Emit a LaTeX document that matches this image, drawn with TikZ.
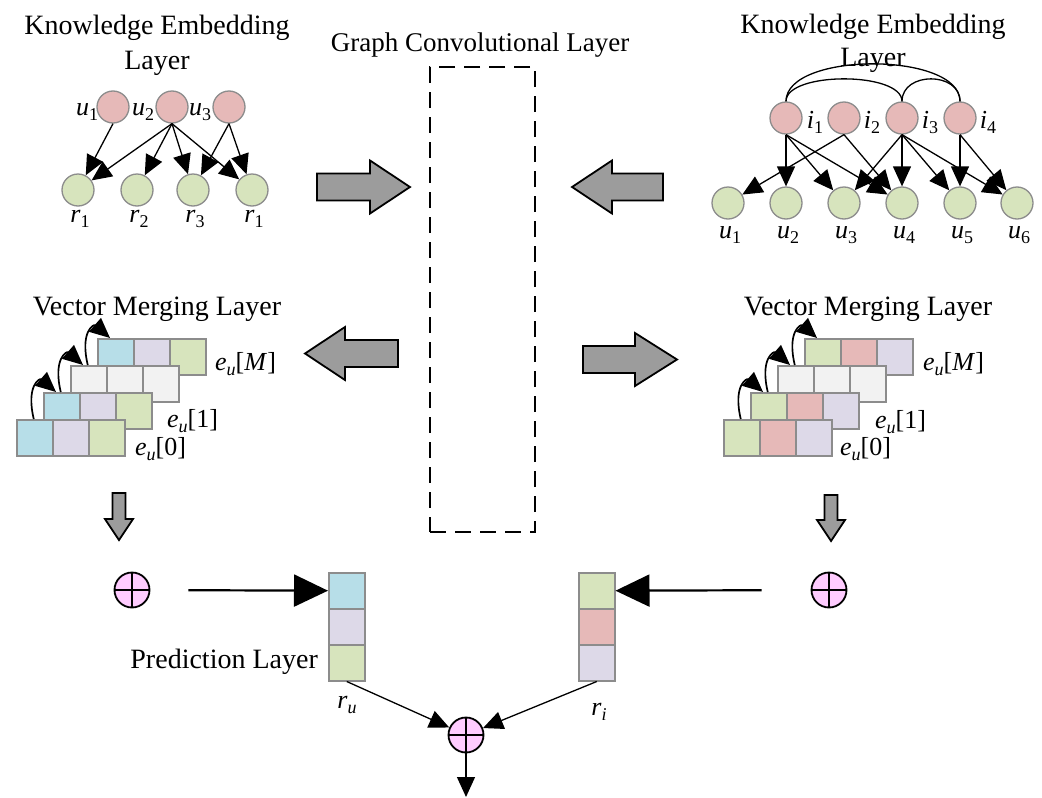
\documentclass[tikz,border=0pt]{standalone}
\usepackage{fontspec}
\setmainfont{Liberation Serif}
\usetikzlibrary{arrows.meta}
\definecolor{npink}{HTML}{E6B9B8}
\definecolor{ngreen}{HTML}{D7E4BD}
\definecolor{nblue}{HTML}{B7DEE8}
\definecolor{nlav}{HTML}{DDD9E8}
\definecolor{ngray}{HTML}{F2F2F2}
\definecolor{nborder}{HTML}{8C8C8C}
\definecolor{opink}{HTML}{FFCCFF}
\definecolor{bgray}{HTML}{9C9C9C}
\newcommand\lb[2]{\textit{#1}\raisebox{-5pt}{\fontsize{18}{18}\selectfont #2}}
\newcommand\eu[1]{\textit{e}\raisebox{-5pt}{\fontsize{18}{18}\selectfont\textit{u}}[#1]}
\tikzset{
  gn/.style={circle, draw=nborder, line width=1.3pt, minimum size=32pt, inner sep=0pt},
  pn/.style={gn, fill=npink},
  grn/.style={gn, fill=ngreen},
  lab/.style={font=\fontsize{26}{26}\selectfont, inner sep=0pt, anchor=base},
  ttl/.style={font=\fontsize{28}{34}\selectfont, inner sep=0pt, anchor=base},
  ed/.style={line width=1.3pt, -{Triangle[length=20pt,width=18pt]}},
  curv/.style={line width=1.7pt, -{Triangle[length=20pt,width=18pt]}},
  cell/.style={draw=nborder, line width=1.5pt, minimum width=36pt, minimum height=36pt, inner sep=0pt, anchor=north west},
  bigarr/.style={fill=bgray, draw=black, line width=1.8pt, line join=miter},
  oplus/.style={circle, draw=black, fill=opink, line width=1.8pt, minimum size=35pt, inner sep=0pt,
    path picture={\draw[line width=1.6pt] (path picture bounding box.north) -- (path picture bounding box.south) (path picture bounding box.west) -- (path picture bounding box.east);}},
  harr/.style={line width=2.2pt, -{Triangle[length=34pt,width=32pt]}},
}
\begin{document}
\begin{tikzpicture}[x=1pt, y=-1pt]
\useasboundingbox[fill=white] (0,0) rectangle (1042,798);

% ---------- titles ----------
\node[ttl] (kl1) at (157,34) {Knowledge Embedding};
\node[ttl] (kl2) at (157,69) {Layer};
\node[ttl] (kr1) at (873,33) {Knowledge Embedding};
\node[ttl] (kr2) at (873,66) {Layer};
\node[ttl, font=\fontsize{27}{33}\selectfont] (gct) at (480,51) {Graph Convolutional Layer};
\node[ttl] (vml) at (157,315) {Vector Merging Layer};
\node[ttl] (vmr) at (868,315) {Vector Merging Layer};

% ---------- left graph ----------
\node[pn] (u1) at (113,107) {};
\node[pn] (u2) at (172,107) {};
\node[pn] (u3) at (229,107) {};
\node[grn] (ra) at (78,190) {};
\node[grn] (rb) at (137,190) {};
\node[grn] (rc) at (193,190) {};
\node[grn] (rd) at (252,190) {};
\node[lab] (lu1) at (87,115) {\lb{u}{1}};
\node[lab] (lu2) at (143,115) {\lb{u}{2}};
\node[lab] (lu3) at (200,115) {\lb{u}{3}};
\node[lab] (lra) at (80,222) {\lb{r}{1}};
\node[lab] (lrb) at (139,222) {\lb{r}{2}};
\node[lab] (lrc) at (195,222) {\lb{r}{3}};
\node[lab] (lrd) at (254,222) {\lb{r}{1}};
\draw[ed] (u1.south) -- (ra);
\foreach \t in {ra,rb,rc,rd} \draw[ed] (u2.south) -- (\t);
\draw[ed] (u3.south) -- (rc);
\draw[ed] (u3.south) -- (rd);

% ---------- right graph ----------
\node[pn] (i1) at (786,118) {};
\node[pn] (i2) at (844,118) {};
\node[pn] (i3) at (902,118) {};
\node[pn] (i4) at (960,118) {};
\foreach \n/\x in {1/728,2/786,3/844,4/902,5/960,6/1017} {
  \node[grn] (v\n) at (\x,203) {};
  \node[lab] (lv\n) at (\x+2,238) {\lb{u}{\n}};
}
\foreach \n/\x in {1/815,2/872,3/930,4/988} \node[lab] (li\n) at (\x,128) {\lb{i}{\n}};
\draw[line width=1.3pt] (i1.north) .. controls +(0,-50) and +(0,-50) .. (i4.north);
\draw[line width=1.3pt] (i1.north) .. controls +(0,-30) and +(0,-30) .. (i3.north);
\draw[line width=1.3pt] (i3.north) .. controls +(0,-30) and +(0,-30) .. (i4.north);
\foreach \t in {v2,v3,v4} \draw[ed] (i1.south) -- (\t);
\foreach \t in {v1,v4} \draw[ed] (i2.south) -- (\t);
\foreach \t in {v3,v4,v5,v6} \draw[ed] (i3.south) -- (\t);
\foreach \t in {v5,v6} \draw[ed] (i4.south) -- (\t);

% ---------- graph convolutional box ----------
\node[draw, line width=2pt, dash pattern=on 16pt off 9pt, minimum width=105pt, minimum height=465pt, inner sep=0pt] (gcl) at (482.5,299.5) {};

% ---------- big arrows ----------
\draw[bigarr] (317,173.5) -- (370,173.5) -- (370,160.5) -- (410,187) -- (370,213.5) -- (370,200.5) -- (317,200.5) -- cycle;
\draw[bigarr] (663,173.5) -- (612,173.5) -- (612,160.5) -- (572,187) -- (612,213.5) -- (612,200.5) -- (663,200.5) -- cycle;
\draw[bigarr] (398,340) -- (345,340) -- (345,327) -- (305,353.5) -- (345,380) -- (345,367) -- (398,367) -- cycle;
\draw[bigarr] (583,346) -- (635,346) -- (635,333) -- (677,359.5) -- (635,386) -- (635,373) -- (583,373) -- cycle;
\draw[bigarr] (112.5,493) -- (125.5,493) -- (125.5,519) -- (133,519) -- (119,540) -- (105,519) -- (112.5,519) -- cycle;
\draw[bigarr] (824.5,495) -- (837.5,495) -- (837.5,520) -- (845,520) -- (831,541) -- (817,520) -- (824.5,520) -- cycle;

% ---------- left vector merging ----------
\foreach \k/\ca/\cb/\cc in {3/nblue/nlav/ngreen, 2/ngray/ngray/ngray, 1/nblue/nlav/ngreen, 0/nblue/nlav/ngreen} {
  \node[cell, fill=\ca] (L\k a) at ({16+27*\k},{419-27*\k}) {};
  \node[cell, fill=\cb] (L\k b) at ({52+27*\k},{419-27*\k}) {};
  \node[cell, fill=\cc] (L\k c) at ({88+27*\k},{419-27*\k}) {};
}
\draw[curv] ([xshift=-1pt]L0a.north) .. controls +(-8,-34) and +(-16,-14) .. ([xshift=13pt]L1a.north west);
\draw[curv] ([xshift=-1pt]L1a.north) .. controls +(-8,-34) and +(-16,-14) .. ([xshift=13pt]L2a.north west);
\draw[curv] ([xshift=-1pt]L2a.north) .. controls +(-8,-34) and +(-16,-14) .. ([xshift=13pt]L3a.north west);
\node[lab, anchor=base west] (lem) at (215,370) {\eu{\textit{M}}};
\node[lab, anchor=base west] (le1) at (167,427) {\eu{1}};
\node[lab, anchor=base west] (le0) at (135,455) {\eu{0}};

% ---------- right vector merging ----------
\foreach \k/\ca/\cb/\cc in {3/ngreen/npink/nlav, 2/ngray/ngray/ngray, 1/ngreen/npink/nlav, 0/ngreen/npink/nlav} {
  \node[cell, fill=\ca] (R\k a) at ({723+27*\k},{419-27*\k}) {};
  \node[cell, fill=\cb] (R\k b) at ({759+27*\k},{419-27*\k}) {};
  \node[cell, fill=\cc] (R\k c) at ({795+27*\k},{419-27*\k}) {};
}
\draw[curv] ([xshift=-1pt]R0a.north) .. controls +(-8,-34) and +(-16,-14) .. ([xshift=13pt]R1a.north west);
\draw[curv] ([xshift=-1pt]R1a.north) .. controls +(-8,-34) and +(-16,-14) .. ([xshift=13pt]R2a.north west);
\draw[curv] ([xshift=-1pt]R2a.north) .. controls +(-8,-34) and +(-16,-14) .. ([xshift=13pt]R3a.north west);
\node[lab, anchor=base west] (rem) at (923,370) {\eu{\textit{M}}};
\node[lab, anchor=base west] (re1) at (875,428) {\eu{1}};
\node[lab, anchor=base west] (re0) at (840,455) {\eu{0}};

% ---------- prediction layer ----------
\node[cell, fill=nblue] (cL1) at (328,572) {};
\node[cell, fill=nlav] (cL2) at (328,608) {};
\node[cell, fill=ngreen] (cL3) at (328,644) {};
\node[cell, fill=ngreen] (cR1) at (578,572) {};
\node[cell, fill=npink] (cR2) at (578,608) {};
\node[cell, fill=nlav] (cR3) at (578,644) {};
\node[ttl, anchor=base east] (pl) at (318,668) {Prediction Layer};
\node[oplus] (pL) at (132,590) {};
\node[oplus] (pR) at (829,590) {};
\node[oplus] (pB) at (466,735) {};
\coordinate (out) at (466,797);
\draw[harr, shorten <=38pt] (pL) -- (cL1);
\draw[harr, shorten <=49pt] (pR) -- (cR1);
\draw[ed] (cL3.south) -- (pB);
\draw[ed] (cR3.south) -- (pB);
\draw[ed] (pB.south) -- (out);
\node[lab] (lru) at (347,708) {\lb{r}{\textit{u}}};
\node[lab] (lri) at (599,715) {\lb{r}{\textit{i}}};
\end{tikzpicture}
\end{document}
